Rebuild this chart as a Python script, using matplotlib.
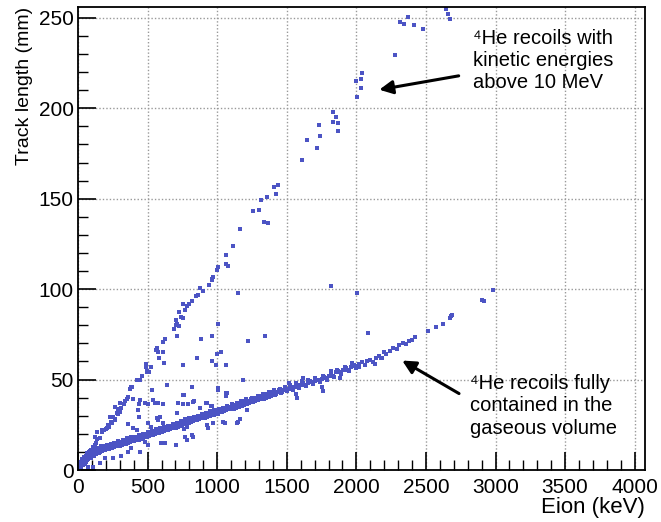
import numpy as np
import matplotlib
matplotlib.use("Agg")
import matplotlib.pyplot as plt
from matplotlib.ticker import MultipleLocator

plt.rcParams['font.family'] = ['Liberation Sans', 'DejaVu Sans']

# recoils fully contained in the gas (lower band): Eion (keV), track length (mm)
band = [
    (5, 0.5), (10, 1.5), (12, 3), (18, 2), (20, 4), (25, 3.5), (28, 5), (30, 2.5), (35, 4.5), (40, 6),
    (42, 3.5), (48, 5.5), (50, 7), (55, 4.5), (60, 6.5), (62, 8), (68, 5.5), (70, 7.5), (75, 9), (80, 6.5),
    (85, 8), (90, 9.5), (95, 7.5), (100, 8.5), (105, 10), (110, 7.5), (115, 9), (120, 10.5), (128, 9), (135, 11),
    (140, 9.5), (148, 10.5), (155, 12), (160, 10), (168, 11.5), (175, 12.5), (182, 11), (190, 12), (198, 13), (205, 11.5),
    (215, 12.5), (225, 13.5), (232, 12), (240, 13), (250, 14), (258, 12.5), (268, 14), (275, 15), (285, 13.5), (295, 14.5),
    (305, 15.5), (315, 14), (325, 15.5), (335, 16), (345, 14.5), (355, 16), (365, 17), (375, 15.5), (385, 16.5), (395, 17.5),
    (405, 16), (415, 17.5), (425, 18), (435, 16.5), (445, 18), (455, 19), (465, 17.5), (475, 19), (485, 20), (495, 18.5),
    (505, 20), (515, 21), (525, 19.5), (535, 20.5), (545, 21.5), (555, 20), (565, 21.5), (575, 22), (585, 20.5), (595, 22),
    (605, 23), (615, 21.5), (625, 23), (635, 23.5), (645, 22), (655, 24), (665, 24.5), (675, 23), (685, 24.5), (695, 25),
    (705, 23.5), (715, 25), (725, 26), (735, 24.5), (745, 26), (755, 27), (765, 25.5), (775, 27), (785, 27.5), (795, 26),
    (805, 27.5), (815, 28.5), (825, 27), (835, 28.5), (845, 29), (855, 27.5), (865, 29), (875, 30), (885, 28.5), (895, 30),
    (905, 30.5), (915, 29), (925, 30.5), (935, 31.5), (945, 30), (955, 31.5), (965, 32), (975, 30.5), (985, 32), (995, 33),
    (1005, 31), (1015, 32.5), (1025, 33.5), (1035, 32), (1045, 33.5), (1055, 34.5), (1065, 33), (1075, 34.5), (1090, 35), (1100, 33.5),
    (1110, 35), (1125, 36), (1135, 34.5), (1150, 36), (1160, 37), (1175, 35.5), (1185, 37), (1200, 38), (1215, 36.5), (1225, 38),
    (1240, 39), (1255, 37.5), (1265, 39), (1280, 40), (1295, 38.5), (1305, 40), (1320, 41), (1335, 39.5), (1345, 41), (1360, 42),
    (1375, 40.5), (1390, 42), (1400, 43), (1415, 41.5), (1430, 43), (1445, 44), (1460, 42.5), (1470, 44), (1485, 45), (1500, 43.5),
    (1515, 45), (1530, 46), (1545, 44.5), (1560, 46), (1575, 47), (1590, 45.5), (1605, 47), (1620, 48), (1640, 46.5), (1655, 48),
    (1670, 49), (1690, 47.5), (1705, 49), (1720, 50), (1740, 48.5), (1755, 50.5), (1770, 51.5), (1790, 50), (1805, 52), (1820, 53),
    (1840, 51.5), (1855, 54), (1870, 55), (1890, 53), (1905, 55.5), (1925, 56.5), (1945, 55), (1960, 57), (1980, 58), (2000, 56.5),
    (2020, 58.5), (2040, 59.5), (2060, 58), (2080, 60.5), (2100, 61), (2120, 59.5), (2140, 62), (2160, 63), (2185, 62), (2200, 65),
    (2215, 64), (2240, 66), (2265, 67.5), (2290, 67), (2310, 69), (2335, 70), (2355, 69.5), (2380, 71.5), (2400, 72), (2420, 73.5),
    (2515, 76.6), (2570, 78.8), (2621, 80.7), (2675, 84), (2683, 84.9), (2690, 85.5), (2906, 94), (2920, 93.5), (2982, 99.3),
]

# second pass over the dense part of the band (0-2000 keV)
band_dense = [
    (8, 2.5), (15, 4.5), (22, 1.5), (32, 6), (38, 3), (45, 7), (52, 4), (58, 8), (65, 9.5), (72, 6),
    (78, 10), (88, 10.5), (92, 6.5), (102, 11), (108, 9.5), (118, 8), (125, 11.5), (132, 9), (145, 12), (152, 9.5),
    (165, 13), (172, 10.5), (185, 13.5), (195, 11), (210, 14), (220, 11.5), (235, 14.5), (245, 12), (262, 15), (272, 13),
    (290, 16), (300, 13.5), (320, 16.5), (330, 14.5), (350, 17.5), (360, 15), (380, 18), (390, 16), (410, 18.5), (420, 16.5),
    (440, 19.5), (450, 17), (470, 20), (480, 18), (500, 21), (510, 19), (530, 21.5), (540, 19.5), (560, 22.5), (570, 20.5),
    (590, 23), (600, 21), (620, 24), (630, 22), (650, 24.5), (660, 22.5), (680, 25.5), (690, 23.5), (710, 26), (720, 24),
    (740, 27), (750, 25), (770, 28), (780, 26), (800, 28.5), (810, 26.5), (830, 29.5), (840, 27.5), (860, 30), (870, 28),
    (890, 31), (900, 29), (920, 31.5), (930, 29.5), (950, 32.5), (960, 30.5), (980, 33), (990, 31), (1010, 34), (1020, 32),
    (1040, 34.5), (1050, 32.5), (1070, 35.5), (1082, 33.5), (1105, 36.5), (1118, 34), (1140, 37), (1155, 35), (1170, 38), (1190, 36),
    (1210, 39), (1230, 37), (1250, 40), (1270, 38), (1290, 41), (1310, 39), (1330, 42), (1350, 40), (1370, 43), (1385, 41),
    (1410, 44), (1425, 42), (1450, 45), (1465, 43), (1490, 46), (1505, 44), (1525, 47), (1540, 45.5), (1565, 48), (1585, 46.5),
    (1610, 49), (1630, 47), (1650, 50), (1680, 48.5), (1700, 51), (1730, 49.5), (1760, 52), (1785, 51), (1815, 54.5), (1830, 52),
    (1860, 55.5), (1880, 54), (1915, 57), (1935, 55.5), (1970, 59), (1990, 57.5),
]

# long tracks (upper branch): recoils escaping the gas volume
branch = [
    (24, 2.8), (48, 5.5), (72, 8.3), (96, 11.1), (120, 13.8), (139, 17), (156, 17.5), (172, 21.2), (187, 22.1), (239, 26.7),
    (251, 29.5), (299, 32.3), (311, 34.2), (328, 36.5), (359, 40.6), (376, 44.7), (383, 46.1), (385, 45.8), (426, 49.8), (445, 49.8),
    (457, 52.2), (493, 54), (498, 55), (508, 54.1), (488, 56.9), (522, 56.9), (488, 58.5), (582, 62.2), (565, 67.4), (560, 66.4),
    (577, 65), (608, 65.5), (608, 70.5), (625, 72.7), (708, 74.2), (689, 78.2), (704, 79.9), (727, 79.4), (713, 80.7), (701, 83),
    (737, 84.5), (756, 84), (725, 87.1), (768, 88.6), (780, 90.8), (756, 91.9), (799, 91.9), (818, 93.2), (845, 96.3), (859, 96.9),
    (900, 99.1), (876, 100.6), (938, 102.4), (960, 104.8), (967, 106.7), (960, 105.6), (996, 110.7), (1008, 112.2), (1067, 113.9), (1075, 113),
    (1060, 118.7), (1111, 123.7), (1161, 133), (1254, 143), (1297, 144), (1316, 149.1), (1357, 151.2), (1424, 152.8), (1410, 156.3), (1438, 157.8),
    (1338, 137), (1366, 136.4), (1606, 171.6), (1642, 182.2), (1718, 178.3), (1733, 190.5), (1742, 184.9), (1833, 198), (1852, 195.3), (1829, 192.5),
    (1869, 192), (1869, 187.2), (2006, 206.5), (2034, 211), (2001, 215), (2030, 216), (2041, 219.3), (2278, 229.2), (2312, 247.7), (2341, 246.4),
    (2372, 250.5), (2412, 245.8), (2479, 244), (2647, 254.7), (2659, 252), (2671, 249.2),
    (60, 7.5), (84, 10), (108, 12.5), (130, 15), (200, 22.5), (225, 24), (265, 28), (285, 31), (340, 38), (350, 39.5),
]

# scattered events between the two populations
scatter = [
    (1151, 97.8), (1821, 101.5), (2006, 97.8), (1343, 74.2), (1223, 71.6), (881, 72.4), (960, 74.2), (1008, 80.8), (756, 58), (852, 62.2),
    (960, 60.5), (1000, 64.2), (1025, 65.5), (991, 57.8), (1067, 57.8), (618, 59), (641, 46.9), (816, 46.1), (1182, 49.8), (1008, 45.2),
    (529, 44.3), (541, 38.8), (505, 36.5), (553, 36.9), (577, 37.3), (608, 36.5), (440, 36.5), (397, 39), (443, 38.8), (431, 33.2),
    (479, 36.9), (756, 36.5), (792, 36.5), (756, 41.5), (924, 36.9), (960, 35.4), (1072, 42.8), (1067, 41), (1008, 44.3), (835, 38.2),
    (876, 34.2), (565, 28.6), (589, 29.5), (1151, 26.7), (1139, 25.8), (440, 29.5), (361, 25.3), (397, 23.1), (421, 22.1), (266, 27.7),
    (242, 25.8), (230, 29.5), (266, 35.1), (302, 36.9), (290, 33.8), (170, 22.1), (134, 21.2), (122, 18.4), (206, 23.1), (218, 24.9),
    (278, 31.4), (302, 32.3), (503, 25.8), (522, 24), (610, 25.8), (574, 27.7), (718, 36.9), (713, 31.4), (761, 41.5), (359, 10.1),
    (383, 12), (443, 10.1), (306, 7.8), (251, 6.5), (191, 6.5), (156, 3.7), (108, 1.8), (72, 1.5), (503, 13.8), (598, 15.1),
    (627, 15.1), (479, 15.7), (706, 13.8), (828, 37.8), (919, 37.3), (953, 35.4), (1063, 42.8), (1039, 26.7), (1055, 25.8), (1163, 28),
    (1144, 26.2), (1211, 33.2), (928, 24.9), (935, 23.1), (972, 25.8), (780, 24), (780, 16.6), (768, 18.4), (816, 19.4), (828, 18.1),
    (761, 22.5), (2085, 75.7), (2020, 57.2), (2132, 58.5), (2180, 61.8), (1881, 50.8), (1750, 46.1), (1761, 43.7), (1570, 39.7), (1565, 42.1),
    (1618, 51.1), (1517, 48.3),
]

fig = plt.figure(figsize=(6.61, 5.22), dpi=100)
ax = fig.add_axes([0.118, 0.0996, 0.858, 0.887])

dot_color = '#4c54c4'
for group in (band, band_dense, branch, scatter):
    xs = [p[0] for p in group]
    ys = [p[1] for p in group]
    ax.plot(xs, ys, 's', ms=2.6, mew=0, color=dot_color)

ax.set_xlim(0, 4075)
ax.set_ylim(0, 256)
ax.xaxis.set_major_locator(MultipleLocator(500))
ax.xaxis.set_minor_locator(MultipleLocator(100))
ax.yaxis.set_major_locator(MultipleLocator(50))
ax.yaxis.set_minor_locator(MultipleLocator(10))
ax.tick_params(which='major', direction='in', length=13, width=1.2, labelsize=15, top=False, right=False)
ax.tick_params(which='minor', direction='in', length=7, width=1, top=False, right=False)
ax.tick_params(axis='x', pad=6)
ax.tick_params(axis='y', pad=3)
ax.grid(True, which='major', color='#999999', linestyle=(0, (1, 1.5)), lw=1)
for s in ax.spines.values():
    s.set_linewidth(1.3)

ax.set_xlabel('Eion (keV)', fontsize=16, loc='right', labelpad=0)
ax.set_ylabel('Track length (mm)', fontsize=14, loc='top', labelpad=4)

ax.text(2836, 244, '\u2074He recoils with\nkinetic energies\nabove 10 MeV', fontsize=14.5,
        va='top', ha='left', linespacing=1.22)
ax.annotate('', xy=(2145, 210), xytext=(2755, 218.2),
            arrowprops=dict(arrowstyle='-|>', lw=2.2, color='black', mutation_scale=20))

ax.text(2815, 53, '\u2074He recoils fully\ncontained in the\ngaseous volume', fontsize=14.5,
        va='top', ha='left', linespacing=1.22)
ax.annotate('', xy=(2312, 61.3), xytext=(2755, 41.5),
            arrowprops=dict(arrowstyle='-|>', lw=2.2, color='black', mutation_scale=20))

fig.savefig('out.png', dpi=100)
